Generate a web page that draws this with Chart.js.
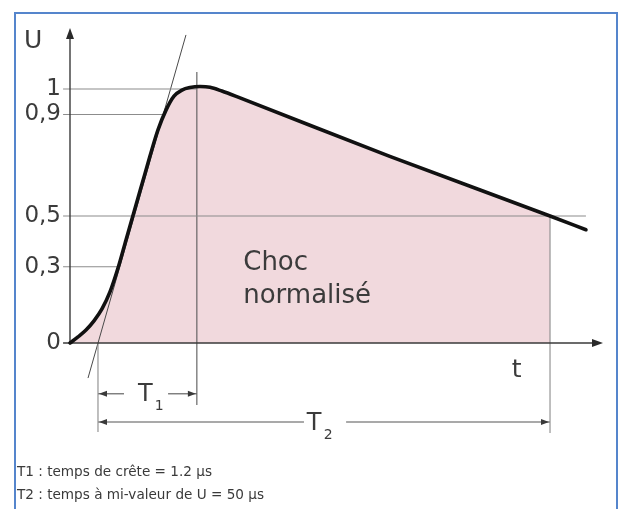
<!DOCTYPE html>
<html><head><meta charset="utf-8">
<script src="https://cdn.jsdelivr.net/npm/chart.js@4.4.0/dist/chart.umd.min.js"></script>
<style>html,body{margin:0;padding:0;background:#fff;}canvas{display:block;}</style>
</head><body>
<canvas id="c" width="625" height="509"></canvas>
<script>
// ---- data (schematic time units, normalised voltage) ----
const curveT = [0, 1.5, 3.0, 4.5, 6.0, 7.5, 9.01, 10.51, 12.01, 13.51, 15.01, 16.51, 18.01, 19.51, 21.01, 22.51, 24.39, 26.27, 28.5, 31.9, 60.0, 90.06, 96.8];
const curveU = [0, 0.024, 0.051, 0.087, 0.134, 0.201, 0.295, 0.406, 0.516, 0.626, 0.736, 0.839, 0.917, 0.972, 0.996, 1.006, 1.01, 1.007, 0.992, 0.965, 0.735, 0.5, 0.446];
const yTicks = [0, 0.3, 0.5, 0.9, 1];
const yTickLabels = ['0', '0,3', '0,5', '0,9', '1'];
const originT = 5.25;   // virtual origin O1
const peakT = 23.8;     // end of T1
const halfT = 90.06;    // end of T2
const guideU = [1, 0.9, 0.5, 0.3];
const guideEndT = [23.8, 17.8, 96.8, 9.05];
const tangentT = [3.38, 21.76];
const tangentU = [-0.138, 1.213];
const t1U = -0.2, t2U = -0.311;
const t1Gap = [10.13, 18.4];
const t2Gap = [43.9, 51.8];
const notes = ['T1 : temps de crête = 1.2 µs', 'T2 : temps à mi-valeur de U = 50 µs'];

const FONT = '"DejaVu Sans", "Liberation Sans", Arial, sans-serif';
const TXT = '#3b3b3b';
const GRAY = '#8c8c8c';

const pts = (ts, us) => ts.map((t, i) => ({x: t, y: us[i]}));
const curve = pts(curveT, curveU);
const fillPts = curve.filter(p => p.x <= halfT);

function seg(data, color, width, order) {
  return {data, borderColor: color, borderWidth: width, pointRadius: 0, fill: false, clip: false, order, tension: 0};
}

const datasets = [];
// main curve
datasets.push({data: curve, borderColor: '#111', borderWidth: 3.6, pointRadius: 0, fill: false, clip: false,
  cubicInterpolationMode: 'monotone', order: 0, borderCapStyle: 'round', borderJoinStyle: 'round'});
// axes
datasets.push(seg([{x: -1.3, y: 0}, {x: 98.5, y: 0}], '#3a3a3a', 1.4, 1));
datasets.push(seg([{x: 0, y: 0}, {x: 0, y: 1.2}], '#3a3a3a', 1.4, 1));
// horizontal guides
guideU.forEach((u, i) => datasets.push(seg([{x: -1.3, y: u}, {x: guideEndT[i], y: u}], GRAY, 1.1, 2)));
// vertical guides
datasets.push(seg([{x: peakT, y: 1.067}, {x: peakT, y: -0.244}], '#5a5a5a', 1.1, 2));
datasets.push(seg([{x: originT, y: 0}, {x: originT, y: -0.35}], GRAY, 1.1, 2));
datasets.push(seg([{x: halfT, y: 0.5}, {x: halfT, y: -0.354}], GRAY, 1.1, 2));
// tangent
datasets.push(seg(pts(tangentT, tangentU), '#4a4a4a', 1, 2));
// T1 / T2 dimension lines
datasets.push(seg([{x: originT, y: t1U}, {x: t1Gap[0], y: t1U}], '#555', 1.1, 2));
datasets.push(seg([{x: t1Gap[1], y: t1U}, {x: peakT, y: t1U}], '#555', 1.1, 2));
datasets.push(seg([{x: originT, y: t2U}, {x: t2Gap[0], y: t2U}], '#555', 1.1, 2));
datasets.push(seg([{x: t2Gap[1], y: t2U}, {x: halfT, y: t2U}], '#555', 1.1, 2));
// pink fill
datasets.push({data: fillPts, borderWidth: 0, borderColor: 'rgba(0,0,0,0)', backgroundColor: '#f1d9dd',
  pointRadius: 0, fill: 'origin', cubicInterpolationMode: 'monotone', order: 9, clip: false});

const deco = {
  id: 'deco',
  afterDraw(chart) {
    const ctx = chart.ctx, xs = chart.scales.x, ys = chart.scales.y;
    const X = v => xs.getPixelForValue(v), Y = v => ys.getPixelForValue(v);
    ctx.save();
    const tri = (x, y, dir, len, hw, col) => {
      ctx.fillStyle = col; ctx.beginPath();
      if (dir === 'up') { ctx.moveTo(x, y); ctx.lineTo(x - hw, y + len); ctx.lineTo(x + hw, y + len); }
      if (dir === 'right') { ctx.moveTo(x, y); ctx.lineTo(x - len, y - hw); ctx.lineTo(x - len, y + hw); }
      if (dir === 'left') { ctx.moveTo(x, y); ctx.lineTo(x + len, y - hw); ctx.lineTo(x + len, y + hw); }
      ctx.closePath(); ctx.fill();
    };
    tri(X(0), Y(1.24), 'up', 11, 4, '#2a2a2a');
    tri(X(100), Y(0), 'right', 11, 4, '#2a2a2a');
    tri(X(originT) + 1, Y(t1U), 'left', 8, 3, '#3a3a3a');
    tri(X(peakT) - 1, Y(t1U), 'right', 8, 3, '#3a3a3a');
    tri(X(originT) + 1, Y(t2U), 'left', 8, 3, '#3a3a3a');
    tri(X(halfT) - 1, Y(t2U), 'right', 8, 3, '#3a3a3a');

    ctx.fillStyle = TXT;
    ctx.textAlign = 'left'; ctx.textBaseline = 'alphabetic';
    ctx.font = '25px ' + FONT;
    ctx.fillText('U', 24, 48);
    ctx.fillText('t', X(82.9), Y(-0.134));
    ctx.font = '26px ' + FONT;
    ctx.fillText('Choc', X(32.5), Y(0.287));
    ctx.fillText('normalisé', X(32.5), Y(0.157));
    ctx.font = '24px ' + FONT;
    ctx.fillText('T', X(12.76), Y(-0.228));
    ctx.fillText('T', X(44.4), Y(-0.343));
    ctx.font = '14px ' + FONT;
    ctx.fillText('1', X(15.9), Y(-0.264));
    ctx.fillText('2', X(47.6), Y(-0.378));
    ctx.font = '13.6px ' + FONT;
    ctx.fillStyle = '#3a3a3a';
    ctx.fillText(notes[0], 17, 476);
    ctx.fillText(notes[1], 17, 499);
    ctx.strokeStyle = '#5585cc'; ctx.lineWidth = 2;
    ctx.beginPath();
    ctx.moveTo(15, 530); ctx.lineTo(15, 13); ctx.lineTo(617, 13); ctx.lineTo(617, 530);
    ctx.stroke();
    ctx.restore();
  }
};

new Chart(document.getElementById('c'), {
  type: 'line',
  data: {datasets},
  options: {
    responsive: false,
    devicePixelRatio: 1,
    animation: false,
    events: [],
    layout: {padding: {left: 15, right: 22, top: 23, bottom: 64.4}},
    plugins: {legend: {display: false}, tooltip: {enabled: false}, title: {display: false}},
    scales: {
      x: {type: 'linear', min: 0, max: 100, display: false},
      y: {
        type: 'linear', min: -0.4, max: 1.26,
        grid: {display: false, drawTicks: false},
        border: {display: false},
        afterBuildTicks: s => { s.ticks = yTicks.map(v => ({value: v})); },
        afterFit: s => { s.width = 55; },
        ticks: {
          padding: 9,
          color: TXT,
          font: {family: FONT, size: 23},
          callback: (v, i) => yTickLabels[i]
        }
      }
    }
  },
  plugins: [deco]
});
</script>
</body></html>
